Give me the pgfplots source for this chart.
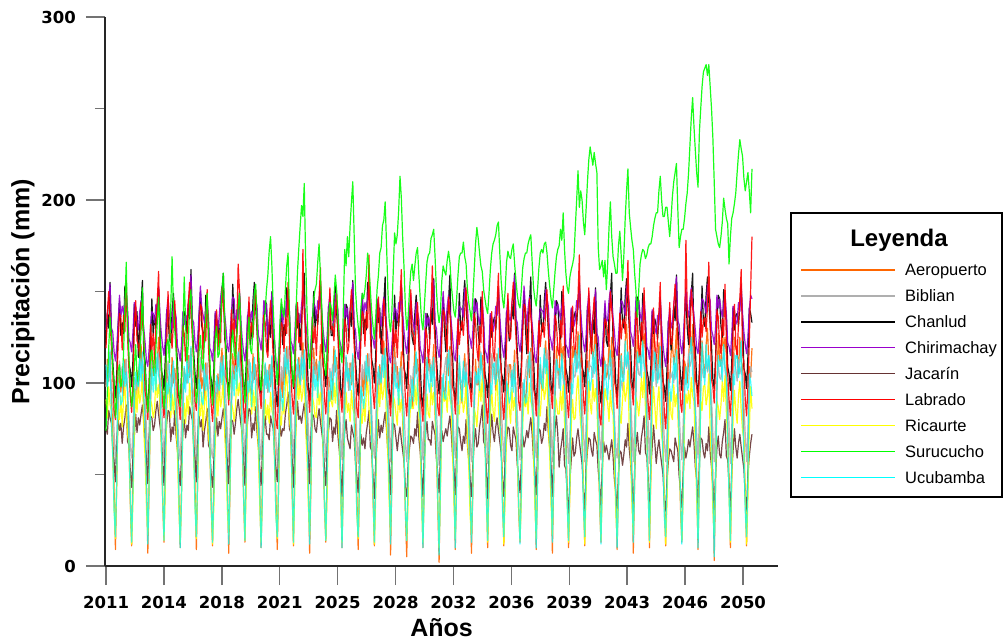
\documentclass[border=0pt]{standalone}
\usepackage{fontspec}
\setmainfont{Liberation Sans}
\newfontfamily\ticksfont{DejaVu Sans}
\usepackage{pgfplots}
\usepackage{pgfplotstable}
\pgfplotsset{compat=1.18}

\definecolor{cAer}{RGB}{255,102,0}
\definecolor{cBib}{RGB}{175,175,175}
\definecolor{cCha}{RGB}{0,0,0}
\definecolor{cChi}{RGB}{153,0,204}
\definecolor{cJac}{RGB}{102,51,51}
\definecolor{cLab}{RGB}{255,0,0}
\definecolor{cRic}{RGB}{255,255,0}
\definecolor{cSur}{RGB}{0,255,0}
\definecolor{cUcu}{RGB}{0,255,255}

% Monthly precipitation (mm), January 2011 - December 2050, one row per month
\pgfplotstableread{
aer bib cha chi jac lab ric sur ucu
% 2011
98 98 122 129 75 119 91 74 110
113 108 138 139 72 138 81 96 98
101 113 130 146 85 150 98 119 104
117 103 155 154 81 134 88 136 118
93 96 128 130 78 120 85 126 80
75 93 112 128 64 106 59 108 62
41 73 100 117 57 85 32 101 30
9 56 92 112 46 80 15 81 16
48 72 106 120 65 99 47 90 48
91 95 132 133 80 122 85 107 100
108 112 145 148 74 138 80 110 96
95 104 126 136 78 136 93 98 88
% 2012
105 109 133 142 67 118 76 100 90
93 102 127 138 76 137 91 116 112
113 105 153 145 81 128 99 142 98
101 113 145 151 88 156 83 166 106
97 92 138 140 68 125 72 129 96
67 82 111 124 66 107 67 114 68
35 65 107 122 52 93 37 98 38
11 59 98 117 43 84 12 87 13
53 74 113 128 60 100 35 93 42
97 103 143 144 71 130 71 109 88
91 101 131 142 83 145 96 121 106
107 96 139 134 73 123 84 104 100
% 2013
94 104 114 129 81 121 100 99 98
112 116 131 139 77 114 89 113 113
121 108 142 145 83 144 94 128 101
102 112 156 137 88 134 106 152 117
90 107 116 130 79 126 74 124 93
84 92 112 122 66 95 59 107 75
48 75 94 112 59 91 32 96 41
7 57 86 109 45 80 17 84 12
46 77 100 119 69 98 47 96 48
88 103 121 131 82 132 91 116 91
118 112 146 139 81 118 88 118 108
104 109 126 138 74 127 81 109 95
% 2014
117 106 137 133 77 113 85 104 108
105 114 130 143 85 132 104 119 96
111 108 142 138 90 145 92 133 116
125 117 152 153 83 161 99 147 104
87 104 134 137 77 115 90 127 100
69 94 107 127 71 110 67 112 70
37 75 104 120 57 90 41 97 38
13 57 96 115 44 81 14 86 14
55 79 114 124 68 97 44 97 56
107 102 140 139 78 121 84 121 100
103 112 137 147 85 150 99 124 94
95 105 124 136 84 127 94 111 110
% 2015
92 104 122 133 68 127 81 141 85
114 98 139 129 76 119 94 169 103
100 109 149 145 72 133 83 141 112
108 102 135 140 85 145 97 129 93
98 100 123 136 71 124 77 117 81
70 83 111 120 63 93 61 104 75
40 66 93 117 52 89 32 95 39
10 58 88 112 44 80 13 87 10
44 76 105 121 60 101 38 101 37
90 100 125 139 73 131 75 126 79
108 97 139 132 80 127 89 158 109
102 105 137 137 70 112 78 133 95
% 2016
100 100 127 134 77 124 93 111 112
115 110 143 144 74 143 83 121 100
103 115 135 151 87 155 100 144 106
119 105 162 159 83 139 90 151 120
95 98 133 135 80 125 87 131 82
77 95 117 133 66 111 61 111 64
43 75 105 122 59 90 34 99 32
9 56 97 117 46 85 15 89 16
50 74 111 125 67 104 49 97 50
93 97 137 138 82 127 87 117 102
110 114 150 153 76 143 82 126 98
97 106 131 141 80 141 95 111 90
% 2017
103 107 128 137 65 113 74 107 88
91 100 122 133 74 132 89 123 110
111 103 148 140 79 123 97 137 96
99 111 140 146 86 151 81 149 104
95 90 133 135 66 120 70 127 94
65 80 106 119 64 102 65 113 66
33 63 102 117 50 88 35 97 36
11 59 93 112 43 79 12 88 13
51 72 108 123 58 95 33 101 40
95 101 138 139 69 125 69 124 86
89 99 126 137 81 140 94 131 104
105 94 134 129 71 118 82 114 98
% 2018
92 102 122 137 79 129 98 116 96
110 114 139 147 75 122 87 134 111
119 106 150 153 81 152 92 151 99
100 110 160 145 86 142 104 160 115
88 105 124 138 77 134 72 136 91
82 90 120 130 64 103 57 114 73
46 73 102 120 57 99 30 103 39
7 57 94 117 45 88 17 91 12
44 75 108 127 67 106 45 101 46
86 101 129 139 80 140 89 121 89
116 110 154 147 79 126 86 129 106
102 107 134 146 72 135 79 117 93
% 2019
118 107 134 130 78 110 86 113 109
106 115 127 140 86 129 105 124 97
112 109 139 135 91 165 93 141 117
126 118 149 150 84 150 100 149 105
88 105 131 134 78 112 91 131 101
70 95 104 124 72 107 68 114 71
38 76 101 117 58 87 42 101 39
13 57 93 112 44 78 14 89 14
56 80 111 121 69 94 45 103 57
108 103 137 136 79 118 85 124 101
104 113 134 144 86 147 100 136 95
96 106 121 133 85 124 95 119 111
% 2020
94 106 128 139 70 133 83 116 87
116 100 145 135 78 125 96 129 105
102 111 155 151 74 139 85 149 114
110 104 141 146 87 151 99 154 95
100 102 129 142 73 130 79 133 83
72 85 117 126 65 99 63 116 77
42 68 99 123 54 95 34 104 41
10 58 94 118 44 86 13 96 10
46 78 111 127 62 107 40 104 39
92 102 131 145 75 137 77 131 81
110 99 145 138 82 133 91 139 111
104 107 143 143 72 118 80 151 97
% 2021
95 95 117 124 72 114 88 159 107
110 105 133 134 69 133 78 172 95
98 110 125 141 82 145 95 180 101
114 100 150 149 78 129 85 164 115
90 93 123 125 75 115 82 141 77
72 90 107 123 61 101 56 124 59
38 70 95 112 54 80 29 111 27
9 56 87 107 46 75 15 99 16
45 69 101 115 62 94 44 111 45
88 92 127 128 77 117 82 134 97
105 109 140 143 71 133 77 146 93
92 101 121 131 75 131 90 139 85
% 2022
112 116 132 141 74 117 83 136 97
100 109 126 137 83 136 98 151 119
120 112 152 144 88 127 106 164 105
108 120 144 150 95 155 90 171 113
104 99 137 139 75 124 79 139 103
74 89 110 123 73 106 74 121 75
42 72 106 121 59 92 44 107 45
11 59 97 116 43 83 12 98 13
60 81 112 127 67 99 42 111 49
104 110 142 143 78 129 78 141 95
98 108 130 141 90 144 103 161 113
114 103 138 133 80 122 91 174 107
% 2023
95 105 118 133 82 125 101 186 99
113 117 135 143 78 118 90 197 114
122 109 146 149 84 173 95 191 102
103 113 160 141 89 138 107 209 118
91 108 120 134 80 130 75 169 94
85 93 116 126 67 99 60 141 76
49 76 98 116 60 95 33 119 42
7 57 90 113 45 84 17 108 12
47 78 104 123 70 102 48 119 49
89 104 125 135 83 136 92 134 92
119 113 150 143 82 122 89 146 109
105 110 130 142 75 131 82 151 96
% 2024
113 102 139 135 73 115 81 154 104
101 110 132 145 81 134 100 166 92
107 104 144 140 86 147 88 176 112
121 113 154 155 79 163 95 159 100
83 100 136 139 73 117 86 141 96
65 90 109 129 67 112 63 124 66
33 71 106 122 53 92 37 113 34
13 57 98 117 44 83 14 104 14
51 75 116 126 64 99 40 116 52
103 98 142 141 74 123 80 136 96
99 108 139 149 81 152 95 144 90
91 101 126 138 80 129 90 141 106
% 2025
98 110 126 137 68 131 87 134 91
120 104 143 133 76 123 100 146 109
106 115 153 149 72 137 89 159 118
114 108 139 144 85 149 103 151 99
104 106 127 140 71 128 83 136 87
76 89 115 124 63 97 67 124 81
46 72 97 121 52 93 38 116 45
10 58 92 116 38 84 13 111 10
50 82 109 125 60 105 44 141 43
96 106 129 143 73 135 81 173 85
114 103 143 136 80 131 95 164 115
108 111 141 141 70 116 84 180 101
% 2026
96 96 123 130 67 120 89 169 108
111 106 139 140 64 139 79 186 96
99 111 131 147 77 151 96 199 102
115 101 156 155 73 135 86 210 116
91 94 129 131 70 121 83 181 78
73 91 113 129 56 107 57 151 60
39 71 101 118 49 86 30 139 28
9 56 93 113 40 81 15 131 16
46 70 107 121 57 100 45 123 46
89 93 133 134 72 123 83 141 98
106 110 146 149 66 139 78 149 94
93 102 127 137 70 137 91 146 86
% 2027
108 112 135 144 64 120 79 151 93
96 105 129 140 73 139 94 159 115
116 108 155 147 78 130 102 171 101
104 116 147 153 85 170 86 164 109
100 95 140 142 65 127 75 151 99
70 85 113 126 63 109 70 139 71
38 68 109 124 49 95 40 131 41
11 59 100 119 37 86 12 124 13
56 77 115 130 57 102 38 136 45
100 106 145 146 68 132 74 151 91
94 104 133 144 80 147 99 159 109
110 99 141 136 70 125 87 171 103
% 2028
96 106 116 131 77 123 102 174 100
114 118 133 141 73 116 91 186 115
123 110 144 147 79 146 96 189 103
104 114 158 139 84 136 108 199 119
92 109 118 132 75 128 76 176 95
86 94 114 124 62 97 61 151 77
50 77 96 114 55 93 34 134 43
6 57 88 111 39 82 17 128 12
48 79 102 121 65 100 49 139 50
90 105 123 133 78 134 93 161 93
120 114 148 141 77 120 90 182 110
106 111 128 140 70 129 83 176 97
% 2029
109 98 138 134 63 114 77 181 100
97 106 131 144 71 133 96 194 88
103 100 143 139 76 146 84 213 108
117 109 153 154 69 162 91 201 96
79 96 135 138 63 116 82 179 92
61 86 108 128 57 111 59 163 62
29 67 105 121 43 91 33 141 30
5 57 97 116 38 82 14 129 14
47 71 115 125 54 98 36 136 48
99 94 141 140 64 122 76 150 92
95 104 138 148 71 151 91 161 86
87 97 125 137 70 128 86 165 102
% 2030
97 109 121 132 67 126 86 156 90
119 103 138 128 75 118 99 164 108
105 114 148 144 71 132 88 171 117
113 107 134 139 84 144 102 174 98
103 105 122 135 70 123 82 159 86
75 88 110 119 62 92 66 146 80
45 71 92 116 51 88 37 134 44
10 58 87 111 38 79 13 129 10
49 81 104 120 59 100 43 141 42
95 105 124 138 72 130 80 154 84
113 102 138 131 79 126 94 166 114
107 110 136 136 69 111 83 170 100
% 2031
113 107 124 131 69 121 81 171 95
101 101 140 141 66 140 100 179 110
107 112 132 148 79 164 88 181 98
121 105 157 156 75 136 95 184 114
83 103 130 132 72 122 86 169 90
65 86 114 130 58 108 63 151 72
33 69 102 119 51 87 37 139 38
2 55 94 114 40 82 10 133 6
51 79 108 122 59 101 40 139 45
103 103 134 135 74 124 80 156 88
99 100 147 150 68 140 95 164 105
91 108 128 138 72 138 90 161 92
% 2032
101 114 117 132 75 124 94 159 91
116 107 134 142 71 117 84 167 109
104 110 145 148 77 147 101 172 118
120 118 159 140 82 137 91 166 99
96 97 119 133 73 129 88 154 87
78 87 115 125 60 98 62 146 81
44 70 97 115 53 94 35 139 45
9 59 89 112 39 83 15 136 10
51 79 103 122 63 101 50 146 43
94 108 124 134 76 135 88 159 85
111 106 149 142 75 121 83 169 115
98 101 129 141 68 130 96 171 101
% 2033
89 100 129 140 63 134 95 171 90
107 108 146 136 71 126 84 177 112
116 102 156 152 67 140 89 169 98
97 111 142 147 80 152 101 165 106
85 98 130 143 66 131 69 151 96
79 88 118 127 58 100 54 144 68
43 69 100 124 47 96 27 139 38
7 57 95 119 38 87 17 134 13
41 73 112 128 55 108 42 146 42
83 96 132 146 68 138 86 161 88
113 106 146 139 75 134 83 176 106
99 99 144 144 65 119 76 185 100
% 2034
99 102 127 136 67 112 88 179 108
121 112 121 132 76 131 101 171 96
107 117 147 139 81 122 90 164 116
115 107 139 145 88 150 104 161 104
105 100 132 134 68 119 84 151 100
77 97 105 118 66 101 68 146 70
47 77 101 116 52 87 39 141 38
10 56 92 111 37 78 13 138 14
51 76 107 122 60 94 45 149 56
97 99 137 138 71 124 82 162 100
115 116 125 136 83 139 96 171 94
109 108 133 128 73 117 85 176 110
% 2035
108 102 136 132 68 112 79 178 111
96 114 129 142 76 131 94 181 99
116 106 141 137 81 144 102 186 105
104 110 151 152 74 160 86 188 119
100 105 133 136 68 114 75 171 81
70 90 106 126 62 109 70 156 63
38 73 103 119 48 89 40 146 31
11 57 95 114 38 80 12 141 16
56 75 113 123 59 96 38 151 49
100 101 139 138 69 120 74 166 101
94 110 136 146 76 149 99 172 97
110 107 123 135 75 126 87 169 89
% 2036
110 104 127 134 66 124 78 168 92
98 98 143 144 63 143 97 173 107
104 109 135 151 76 155 85 176 95
118 102 160 159 72 139 92 165 111
80 100 133 135 69 125 83 156 87
62 83 117 133 55 111 60 148 69
30 66 105 122 48 90 34 143 35
13 58 97 117 40 85 14 141 12
48 76 111 125 56 104 37 151 42
100 100 137 138 71 127 77 163 85
96 97 150 153 65 143 92 168 102
88 105 131 141 69 141 87 171 89
% 2037
100 113 116 131 74 123 93 171 90
115 106 133 141 70 116 83 176 108
103 109 144 147 76 146 100 179 117
119 117 158 139 81 136 90 181 98
95 96 118 132 72 128 87 166 86
77 86 114 124 59 97 61 152 80
43 69 96 114 52 93 34 146 44
9 59 88 111 39 82 15 142 10
50 78 102 121 62 100 49 151 42
93 107 123 133 75 134 87 163 84
110 105 148 141 74 120 82 171 114
97 100 128 140 67 129 95 173 100
% 2038
96 107 128 139 70 133 102 171 97
114 115 145 135 78 125 91 176 119
123 109 155 151 74 139 96 177 105
104 118 141 146 87 151 108 171 113
92 105 129 142 73 130 76 161 103
86 95 117 126 65 99 61 153 75
50 76 99 123 54 95 34 146 45
7 57 94 118 38 86 17 141 13
48 80 111 127 62 107 49 151 49
90 103 131 145 75 137 93 161 95
120 113 145 138 82 133 90 169 113
106 106 143 143 72 118 83 173 107
% 2039
104 97 130 139 54 115 83 175 108
126 107 124 135 63 134 96 184 96
112 112 150 142 68 125 85 178 116
120 102 142 148 75 153 99 193 104
110 95 135 137 55 122 79 173 100
72 92 108 121 53 104 63 160 65
42 72 104 119 39 90 34 152 33
10 56 95 114 29 81 13 149 14
46 71 110 125 47 97 40 158 51
102 94 140 141 58 127 77 162 100
120 111 128 139 70 142 91 165 94
114 103 136 131 60 120 80 169 110
% 2040
120 104 139 135 62 115 81 185 118
108 116 132 145 70 134 96 200 106
128 108 144 140 75 147 104 216 112
116 112 154 155 68 170 88 196 126
112 107 136 139 62 117 77 205 88
72 92 109 129 56 112 72 200 65
40 75 106 122 42 92 42 188 33
11 57 98 117 30 83 12 181 16
58 77 116 126 53 99 40 195 51
112 103 142 141 63 123 76 210 108
106 112 139 149 70 152 101 222 104
122 109 126 138 69 129 89 229 96
% 2041
125 109 119 126 63 116 83 224 102
113 103 135 136 60 135 102 219 117
119 114 127 143 73 147 90 226 105
133 107 152 151 69 131 97 220 121
95 105 125 127 66 117 88 215 97
67 88 109 125 52 103 65 174 74
35 71 97 114 45 82 39 162 40
13 58 89 109 32 77 14 164 12
53 81 103 117 53 96 42 167 47
115 105 129 130 68 119 82 158 95
111 102 142 145 62 135 97 167 112
103 110 123 133 66 133 92 151 99
% 2042
106 109 120 135 62 127 89 165 91
121 102 137 145 58 120 79 185 109
109 105 148 151 64 150 96 199 118
125 113 160 143 69 140 86 180 99
101 92 122 136 60 132 83 169 87
73 82 118 128 47 101 57 165 76
39 65 100 118 40 97 30 160 40
9 59 92 115 31 86 15 160 10
46 74 106 125 50 104 45 175 38
99 103 127 137 63 138 83 183 85
116 101 152 145 62 124 78 170 115
103 96 132 144 55 133 91 156 101
% 2043
105 106 130 141 61 135 101 170 101
123 114 147 137 69 127 90 190 123
132 108 157 153 65 141 95 205 109
113 117 143 148 78 167 107 217 117
101 104 131 144 64 132 75 193 107
85 94 119 128 56 101 60 185 74
49 75 101 125 45 97 33 178 44
7 57 96 120 30 88 17 173 13
47 79 113 129 53 109 48 160 48
99 102 133 147 66 139 92 150 99
129 112 147 140 73 135 89 136 117
115 105 145 145 63 120 82 150 111
% 2044
111 104 129 138 61 114 90 165 115
133 114 123 134 70 133 103 170 103
119 119 149 141 75 124 92 173 123
127 109 141 147 82 152 106 172 111
117 102 134 136 62 121 86 168 107
79 99 107 120 60 103 70 170 72
49 79 103 118 46 89 41 174 40
10 56 94 113 29 80 13 176 14
53 78 109 124 54 96 47 176 58
109 101 139 140 65 126 84 180 107
127 118 127 138 77 141 98 186 101
121 110 135 130 67 119 87 190 117
% 2045
114 98 131 127 56 107 75 193 112
102 110 124 137 64 126 90 193 100
122 102 136 132 69 139 98 205 106
110 106 146 147 62 155 82 213 120
106 101 128 131 56 109 71 200 82
66 86 101 121 50 104 66 191 59
34 69 98 114 36 84 36 191 27
11 57 90 109 30 75 12 196 16
52 71 108 118 47 91 34 196 45
106 97 134 133 57 115 70 188 102
100 106 131 141 64 144 95 180 98
116 103 118 130 63 121 83 190 90
% 2046
122 106 126 133 60 123 80 202 99
110 100 142 143 57 142 99 210 114
116 111 134 150 70 154 87 215 102
130 104 159 158 66 138 94 220 118
92 102 132 134 63 124 85 195 94
64 85 116 132 49 110 62 174 71
32 68 104 121 42 89 36 180 37
13 58 96 116 32 84 14 184 12
50 78 110 124 50 103 39 184 44
112 102 136 137 65 126 79 190 92
108 99 149 152 59 178 94 198 109
100 107 130 140 63 140 89 204 96
% 2047
113 116 121 136 69 128 96 215 98
128 109 138 146 65 121 86 230 116
116 112 149 152 71 151 103 245 125
132 120 160 144 76 141 93 256 106
108 99 123 137 67 133 90 240 94
80 89 119 129 54 102 64 227 83
46 72 101 119 47 98 37 215 47
9 59 93 116 31 87 15 207 10
53 81 107 126 57 105 52 237 45
106 110 128 138 70 139 90 250 92
123 108 153 146 69 125 85 262 122
110 103 133 145 62 134 98 270 108
% 2048
103 104 131 142 59 136 99 272 99
121 112 148 138 67 128 88 274 121
130 106 158 154 63 142 93 268 107
111 115 144 149 76 166 105 274 115
99 102 132 145 62 133 73 262 105
83 92 120 129 54 102 58 250 72
47 73 102 126 43 98 31 234 42
3 57 97 121 30 89 17 210 5
45 77 114 130 51 110 46 184 46
97 100 134 148 64 140 90 180 97
127 110 148 141 71 136 87 176 115
113 103 146 146 61 121 80 174 109
% 2049
109 102 131 140 59 116 88 180 113
131 112 125 136 68 135 101 188 101
117 117 151 143 73 126 90 201 121
125 107 143 149 80 154 104 195 109
115 100 136 138 60 123 84 190 105
77 97 109 122 58 105 68 187 70
47 77 105 120 44 91 39 165 38
10 56 96 115 29 82 13 180 14
51 76 111 126 52 98 45 190 56
107 99 141 142 63 128 82 193 105
125 116 129 140 75 143 96 198 99
119 108 137 132 65 121 85 204 115
% 2050
117 101 138 134 59 114 78 215 115
105 113 131 144 67 133 93 225 103
125 105 143 139 72 146 101 233 109
113 109 153 154 65 162 85 228 123
109 104 135 138 59 116 74 224 85
69 89 108 128 53 111 69 212 62
37 72 105 121 39 91 39 205 30
11 57 97 116 30 82 12 210 16
55 74 115 125 50 98 37 215 48
109 100 141 140 60 122 73 205 105
103 109 138 148 67 151 98 193 101
119 106 133 146 72 180 86 217 93
}\precip

\begin{document}
\begin{tikzpicture}
\useasboundingbox (0pt,0pt) rectangle (1003pt,-642pt);
\begin{axis}[
  at={(105pt,-566pt)}, anchor=south west,
  scale only axis, width=673pt, height=549pt,
  xmin=-0.75, xmax=498.3, ymin=0, ymax=300,
  enlargelimits=false,
  axis x line=bottom, axis y line=left,
  axis line style={-, draw=black!85, line width=1.5pt},
  tick align=outside,
  tick style={draw=black!55, line width=1.5pt},
  major tick length=19pt, minor tick length=10pt,
  xtick={0,42.94,85.88,128.82,171.76,214.7,257.64,300.58,343.52,386.46,429.4,472.34},
  xticklabels={2011,2014,2018,2021,2025,2028,2032,2036,2039,2043,2046,2050},
  ytick={0,100,200,300}, minor ytick={50,150,250},
  /pgf/number format/assume math mode=true,
  ticklabel style={font=\ticksfont\bfseries\fontsize{16.5}{16.5}\selectfont, inner sep=0pt},
  yticklabel style={anchor=east, xshift=-10pt},
  xticklabel style={anchor=base, yshift=-23pt},
  xlabel={Años}, ylabel={Precipitación (mm)},
  label style={font=\bfseries\fontsize{25}{25}\selectfont},
  xlabel style={at={(axis description cs:0.5,-0.113)}, anchor=center},
  ylabel style={at={(axis description cs:-0.122,0.5)}, anchor=center, rotate=0},
  every axis plot/.append style={line width=1.2pt, line join=round},
]
\addplot[cAer, opacity=0.9] table[x expr=\coordindex, y=aer] {\precip};
\addplot[cBib, opacity=0.9] table[x expr=\coordindex, y=bib] {\precip};
\addplot[cCha, opacity=0.9] table[x expr=\coordindex, y=cha] {\precip};
\addplot[cChi, opacity=0.9] table[x expr=\coordindex, y=chi] {\precip};
\addplot[cJac, opacity=0.9] table[x expr=\coordindex, y=jac] {\precip};
\addplot[cLab, opacity=0.9] table[x expr=\coordindex, y=lab] {\precip};
\addplot[cRic, opacity=0.9] table[x expr=\coordindex, y=ric] {\precip};
\addplot[cSur, opacity=0.9] table[x expr=\coordindex, y=sur] {\precip};
\addplot[cUcu, opacity=0.75] table[x expr=\coordindex, y=ucu] {\precip};
\end{axis}
% legend box
\draw[line width=2pt] (791pt,-213pt) rectangle (1002pt,-497pt);
\node[font=\bfseries\fontsize{24}{24}\selectfont] at (899pt,-240pt) {Leyenda};
\foreach \name/\col [count=\i from 0] in {Aeropuerto/cAer, Biblian/cBib, Chanlud/cCha,
    Chirimachay/cChi, Jacarín/cJac, Labrado/cLab, Ricaurte/cRic, Surucucho/cSur, Ucubamba/cUcu}{
  \pgfmathsetmacro{\yy}{-(270+25.9*\i)}
  \draw[draw=\col, line width=1.4pt] (801pt,\yy pt) -- (895pt,\yy pt);
  \node[anchor=base west, inner sep=0pt, font=\fontsize{16.5}{16.5}\selectfont]
    at (905pt,\yy pt-5.9pt) {\name};
}
\end{tikzpicture}
\end{document}
